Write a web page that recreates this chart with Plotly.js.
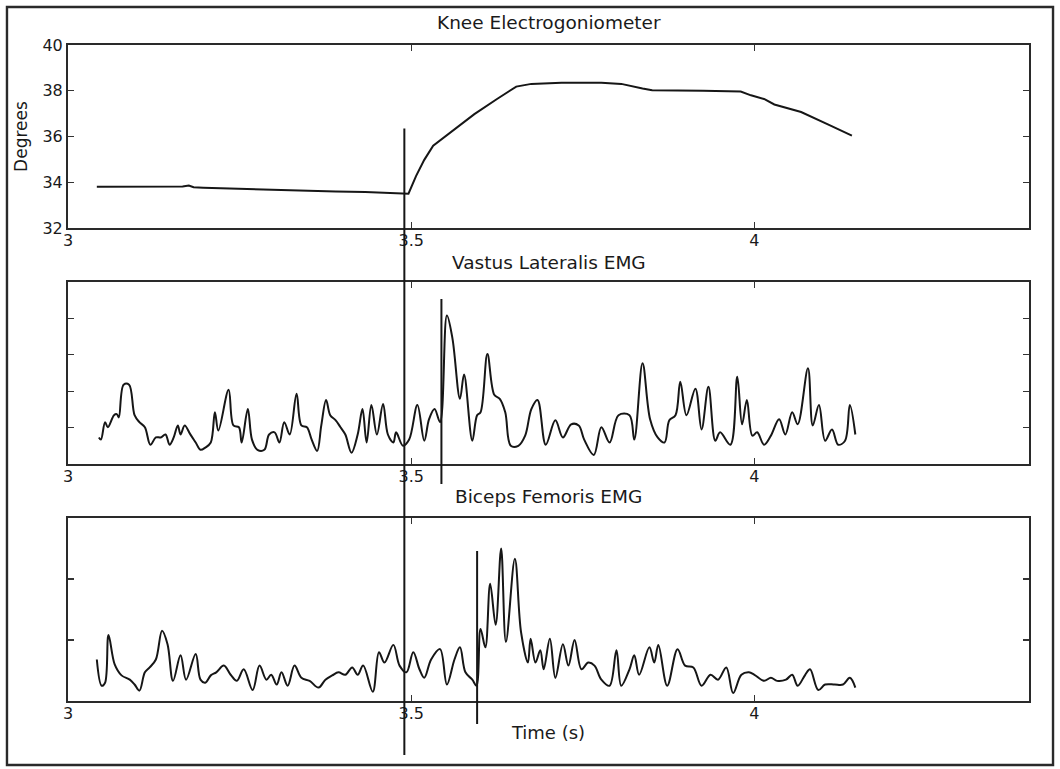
<!DOCTYPE html>
<html>
<head>
<meta charset="utf-8">
<script src="https://cdn.plot.ly/plotly-3.0.1.min.js"></script>
<style>
  html, body { margin: 0; padding: 0; background: #ffffff; }
  #chart { width: 1060px; height: 769px; }
</style>
</head>
<body>
<div id="chart"></div>
<script>
// ---------------- data ----------------
var panelTitles = ['Knee Electrogoniometer', 'Vastus Lateralis EMG', 'Biceps Femoris EMG'];
var xTickVals = [3, 3.5, 4];
var xTickText = ['3', '3.5', '4'];
var kneeTickVals = [32, 34, 36, 38, 40];
var kneeTickText = ['32', '34', '36', '38', '40'];

var kneeTime = [3.042, 3.123, 3.167, 3.176, 3.183, 3.197, 3.241, 3.286, 3.345, 3.390, 3.433, 3.464,
  3.490, 3.496, 3.507, 3.519, 3.532, 3.548, 3.567, 3.592, 3.625, 3.653, 3.675, 3.719, 3.777,
  3.806, 3.837, 3.851, 3.925, 3.980, 3.995, 4.014, 4.029, 4.068, 4.107, 4.142];
var kneeDeg = [33.80, 33.80, 33.82, 33.86, 33.78, 33.76, 33.72, 33.68, 33.62, 33.60, 33.58, 33.55,
  33.50, 33.50, 34.27, 34.98, 35.60, 35.96, 36.40, 36.98, 37.64, 38.18, 38.30, 38.35, 38.35,
  38.30, 38.10, 38.02, 38.00, 37.97, 37.80, 37.64, 37.40, 37.07, 36.53, 36.04];

var vlTime = [3.045, 3.048, 3.054, 3.058, 3.067, 3.071, 3.074, 3.081, 3.089, 3.097, 3.104, 3.112,
  3.120, 3.128, 3.135, 3.142, 3.148, 3.154, 3.160, 3.164, 3.170, 3.178, 3.186, 3.193, 3.200,
  3.208, 3.214, 3.219, 3.234, 3.241, 3.249, 3.253, 3.262, 3.268, 3.276, 3.286, 3.293, 3.301,
  3.308, 3.315, 3.323, 3.333, 3.340, 3.348, 3.355, 3.363, 3.369, 3.376, 3.382, 3.390, 3.397,
  3.404, 3.413, 3.422, 3.429, 3.435, 3.442, 3.450, 3.459, 3.466, 3.474, 3.478, 3.488, 3.497,
  3.509, 3.519, 3.526, 3.534, 3.542, 3.552, 3.560, 3.571, 3.577, 3.589, 3.596, 3.601, 3.611,
  3.621, 3.629, 3.637, 3.645, 3.656, 3.666, 3.675, 3.684, 3.696, 3.710, 3.721, 3.733, 3.744,
  3.752, 3.766, 3.777, 3.789, 3.802, 3.818, 3.825, 3.837, 3.848, 3.859, 3.869, 3.876, 3.885,
  3.892, 3.901, 3.914, 3.923, 3.933, 3.943, 3.950, 3.965, 3.975, 3.982, 3.989, 3.997, 4.004,
  4.014, 4.024, 4.036, 4.045, 4.055, 4.063, 4.078, 4.085, 4.094, 4.103, 4.113, 4.122, 4.132,
  4.139, 4.147];
var vlEmg = [0.73, 0.67, 1.15, 1.01, 1.34, 1.37, 1.28, 2.18, 2.18, 1.34, 1.15, 1.01,
  0.53, 0.73, 0.73, 0.81, 0.53, 0.73, 1.06, 0.81, 1.06, 0.82, 0.59, 0.39, 0.45,
  0.59, 1.42, 0.92, 2.04, 1.06, 1.01, 0.59, 1.51, 0.67, 0.39, 0.39, 0.81, 0.87,
  0.59, 1.15, 0.81, 1.93, 1.06, 1.01, 0.67, 0.36, 1.06, 1.76, 1.34, 1.20, 1.01,
  0.81, 0.31, 0.81, 1.51, 0.59, 1.62, 0.81, 1.65, 0.81, 0.59, 0.87, 0.50, 0.67,
  1.62, 0.64, 1.23, 1.51, 1.15, 4.08, 3.46, 1.79, 2.46, 0.64, 1.34, 1.42, 3.02,
  1.90, 1.79, 1.42, 0.50, 0.50, 0.78, 1.51, 1.76, 0.53, 1.20, 0.73, 1.09, 1.06,
  0.67, 0.25, 1.01, 0.59, 1.34, 1.34, 0.67, 2.77, 1.23, 0.73, 0.59, 1.20, 1.34,
  2.26, 1.34, 2.07, 0.95, 2.12, 0.64, 0.87, 0.53, 2.40, 1.09, 1.76, 0.78, 0.87,
  0.53, 0.78, 1.23, 0.81, 1.42, 1.09, 2.63, 1.06, 1.62, 0.64, 0.95, 0.53, 0.64,
  1.62, 0.81];

var bfTime = [3.042, 3.049, 3.054, 3.059, 3.068, 3.078, 3.090, 3.097, 3.104, 3.112, 3.119, 3.128,
  3.137, 3.145, 3.153, 3.164, 3.172, 3.186, 3.193, 3.200, 3.208, 3.216, 3.227, 3.237, 3.246,
  3.256, 3.269, 3.279, 3.289, 3.296, 3.304, 3.311, 3.320, 3.330, 3.340, 3.352, 3.365, 3.375,
  3.385, 3.394, 3.404, 3.414, 3.422, 3.430, 3.444, 3.453, 3.461, 3.474, 3.483, 3.493, 3.503,
  3.512, 3.519, 3.529, 3.542, 3.552, 3.563, 3.571, 3.579, 3.589, 3.595, 3.601, 3.608, 3.615,
  3.623, 3.631, 3.638, 3.651, 3.660, 3.670, 3.674, 3.681, 3.688, 3.693, 3.702, 3.710, 3.721,
  3.729, 3.738, 3.748, 3.758, 3.767, 3.777, 3.789, 3.799, 3.806, 3.818, 3.825, 3.832, 3.847,
  3.854, 3.860, 3.873, 3.888, 3.899, 3.911, 3.923, 3.936, 3.947, 3.959, 3.969, 3.981, 3.992,
  4.000, 4.014, 4.024, 4.033, 4.046, 4.055, 4.063, 4.074, 4.081, 4.093, 4.103, 4.117, 4.129,
  4.139, 4.147];
var bfEmg = [0.68, 0.25, 0.30, 1.08, 0.60, 0.42, 0.35, 0.27, 0.17, 0.47, 0.55, 0.68,
  1.15, 0.93, 0.33, 0.75, 0.35, 0.77, 0.35, 0.30, 0.42, 0.47, 0.58, 0.43, 0.33,
  0.52, 0.18, 0.58, 0.35, 0.43, 0.27, 0.47, 0.25, 0.58, 0.38, 0.33, 0.22, 0.35,
  0.42, 0.47, 0.43, 0.55, 0.43, 0.58, 0.15, 0.80, 0.63, 0.92, 0.58, 0.47, 0.80,
  0.52, 0.38, 0.68, 0.85, 0.27, 0.68, 0.88, 0.47, 0.35, 0.25, 1.18, 0.88, 1.92,
  1.25, 2.50, 0.97, 2.33, 1.13, 0.63, 1.02, 0.63, 0.83, 0.52, 1.02, 0.38, 0.93,
  0.58, 1.00, 0.52, 0.63, 0.58, 0.35, 0.25, 0.83, 0.25, 0.52, 0.75, 0.43, 0.88,
  0.63, 0.92, 0.25, 0.85, 0.58, 0.55, 0.25, 0.43, 0.35, 0.55, 0.13, 0.43, 0.47,
  0.43, 0.33, 0.38, 0.33, 0.35, 0.43, 0.25, 0.43, 0.52, 0.18, 0.27, 0.27, 0.27,
  0.38, 0.22];

// onset markers (time in s)
var eventTimes = [3.490, 3.544, 3.596];

// ---------------- style / layout ----------------
var INK = '#161616';
var TXT = '#1a1a1a';
var FONT = 'DejaVu Sans';
var eventExtents = [[-0.0823, 0.8727], [0.3308, 0.6128], [-0.0351, 0.2287]]; // paper y

function traceOf(x, y, xa, ya, spline) {
  return {
    type: 'scatter', mode: 'lines', x: x, y: y, xaxis: xa, yaxis: ya,
    line: {color: INK, width: 2, shape: spline ? 'spline' : 'linear', smoothing: 1},
    hoverinfo: 'skip', showlegend: false
  };
}

var data = [
  traceOf(kneeTime, kneeDeg, 'x', 'y', false),
  traceOf(vlTime, vlEmg, 'x2', 'y2', true),
  traceOf(bfTime, bfEmg, 'x3', 'y3', true)
];

function xAxis(anchor, title) {
  var ax = {
    anchor: anchor, domain: [0, 1], range: [3, 4.4],
    tickmode: 'array', tickvals: xTickVals, ticktext: xTickText,
    ticks: 'inside', ticklen: 6, tickwidth: 1.3, tickcolor: '#333',
    ticklabelstandoff: -3,
    showline: true, mirror: 'ticks', linecolor: '#2a2a2a', linewidth: 2,
    showgrid: false, zeroline: false, fixedrange: true,
    tickfont: {family: FONT, size: 16, color: TXT}
  };
  if (title) ax.title = {text: title, font: {family: FONT, size: 18, color: TXT}, standoff: 4};
  return ax;
}
function yAxis(anchor, domain, range, tickvals, labels) {
  var ax = {
    anchor: anchor, domain: domain, range: range,
    tickmode: 'array', tickvals: tickvals,
    ticks: 'inside', ticklen: 6, tickwidth: 1.3, tickcolor: '#333',
    showline: true, mirror: 'ticks', linecolor: '#2a2a2a', linewidth: 2,
    showgrid: false, zeroline: false, fixedrange: true,
    showticklabels: !!labels,
    tickfont: {family: FONT, size: 16, color: TXT}
  };
  if (labels) ax.ticktext = labels;
  return ax;
}

var yAx1 = yAxis('x', [0.721, 1], [32, 40], kneeTickVals, kneeTickText);
yAx1.title = {text: 'Degrees', font: {family: FONT, size: 17, color: TXT}, standoff: 10};

var shapes = eventTimes.map(function (t, i) {
  return {type: 'line', xref: 'x', yref: 'paper', x0: t, x1: t,
          y0: eventExtents[i][0], y1: eventExtents[i][1],
          line: {color: INK, width: 2}};
});
// outer frame
shapes.push({type: 'rect', xref: 'paper', yref: 'paper', x0: -0.0635, x1: 1.025, y0: -0.0976, y1: 1.0579,
             line: {color: '#2a2a2a', width: 2.4}, fillcolor: 'rgba(0,0,0,0)', layer: 'below'});

var titleY = [1.035, 0.669, 0.3125];
var annotations = panelTitles.map(function (txt, i) {
  return {text: txt, xref: 'paper', yref: 'paper', x: 0.5, y: titleY[i],
          xanchor: 'center', yanchor: 'middle', showarrow: false,
          font: {family: FONT, size: 18.5, color: TXT}};
});

var layout = {
  width: 1060, height: 769,
  margin: {l: 68, r: 31, t: 45, b: 68, pad: 0},
  paper_bgcolor: '#ffffff', plot_bgcolor: '#ffffff',
  font: {family: FONT, color: TXT},
  showlegend: false,
  xaxis: xAxis('y'),
  yaxis: yAx1,
  xaxis2: xAxis('y2'),
  yaxis2: yAxis('x2', [0.3613, 0.6387], [0, 5], [1, 2, 3, 4], null),
  xaxis3: xAxis('y3', 'Time (s)'),
  yaxis3: yAxis('x3', [0, 0.279], [0, 3], [1, 2], null),
  shapes: shapes,
  annotations: annotations,
  hovermode: false
};

Plotly.newPlot('chart', data, layout, {displayModeBar: false, staticPlot: true});
</script>
</body>
</html>
